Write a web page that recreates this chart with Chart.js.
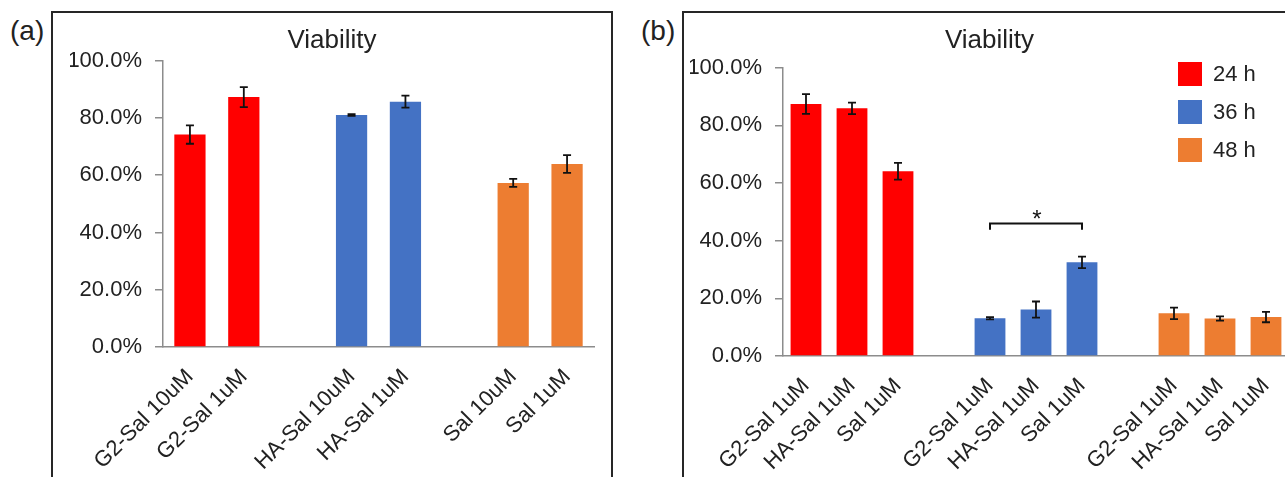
<!DOCTYPE html>
<html>
<head>
<meta charset="utf-8">
<script src="https://cdn.jsdelivr.net/npm/chart.js@4.4.1/dist/chart.umd.min.js"></script>
<style>
  html, body { margin: 0; padding: 0; width: 1285px; height: 477px; overflow: hidden; background: #fff; }
  body { font-family: "Liberation Sans", Arial, sans-serif; position: relative; }
  .panel { position: absolute; top: 11px; height: 520px; border: 2px solid #262626; box-sizing: border-box; }
  #boxA { left: 51px; width: 562px; }
  #boxB { left: 682px; width: 616px; }
  .tag { position: absolute; top: 17px; font-size: 28px; line-height: 28px; color: #222; }
  canvas { position: absolute; left: 0; top: 0; }
</style>
</head>
<body>
<div class="tag" style="left:10px">(a)</div>
<div class="tag" style="left:641px">(b)</div>
<div class="panel" id="boxA"><canvas id="chartA" width="558" height="470"></canvas></div>
<div class="panel" id="boxB"><canvas id="chartB" width="620" height="470"></canvas></div>
<script>
// panel (a): viability by compound and dose
const catsA = ['G2-Sal 10uM', 'G2-Sal 1uM', '', 'HA-Sal 10uM', 'HA-Sal 1uM', '', 'Sal 10uM', 'Sal 1uM'];
const g2SalA = [74.2, 87.3];
const haSalA = [81.0, 85.7];
const salA = [57.3, 63.9];
const g2SalErrA = [3.2, 3.5];
const haSalErrA = [0.3, 2.1];
const salErrA = [1.4, 3.1];

// panel (b): viability at 1uM over time
const catsB = ['G2-Sal 1uM', 'HA-Sal 1uM', 'Sal 1uM', '', 'G2-Sal 1uM', 'HA-Sal 1uM', 'Sal 1uM', '', 'G2-Sal 1uM', 'HA-Sal 1uM', 'Sal 1uM'];
const seriesB = ['24 h', '36 h', '48 h'];
const h24 = [87.4, 85.9, 64.1];
const h36 = [13.1, 16.1, 32.5];
const h48 = [14.8, 13.0, 13.5];
const h24Err = [3.4, 2.0, 2.9];
const h36Err = [0.4, 2.8, 2.0];
const h48Err = [2.0, 0.75, 1.8];

const yTicks = [0, 20, 40, 60, 80, 100];
const sigFrom = 4, sigTo = 6, sigLevel = 46, sigDrop = 2.2, sigText = '*';

const RED = '#FF0000', BLUE = '#4472C4', ORANGE = '#ED7D31';
const FONT = '"Liberation Sans", Arial, sans-serif';
const TEXT = '#222';

// put a group's values into its slots on the category axis
function place(vals, start, n) {
  const out = new Array(n).fill(null);
  vals.forEach((v, i) => { out[start + i] = v; });
  return out;
}

const errorBars = {
  id: 'errorBars',
  afterDatasetsDraw(chart) {
    const ctx = chart.ctx, y = chart.scales.y;
    ctx.save();
    ctx.strokeStyle = '#111';
    ctx.lineWidth = 1.8;
    chart.data.datasets.forEach((ds, i) => {
      const meta = chart.getDatasetMeta(i);
      meta.data.forEach((bar, j) => {
        const v = ds.data[j], e = ds.err[j];
        if (v == null || e == null) return;
        const x = bar.x;
        const top = y.getPixelForValue(v + e), bot = y.getPixelForValue(v - e);
        ctx.beginPath();
        ctx.moveTo(x, top); ctx.lineTo(x, bot);
        ctx.moveTo(x - 4, top); ctx.lineTo(x + 4, top);
        ctx.moveTo(x - 4, bot); ctx.lineTo(x + 4, bot);
        ctx.stroke();
      });
    });
    ctx.restore();
  }
};

const sideLegend = {
  id: 'sideLegend',
  afterDraw(chart) {
    const ctx = chart.ctx;
    ctx.save();
    ctx.font = '22px ' + FONT;
    ctx.textBaseline = 'middle';
    chart.data.datasets.forEach((ds, i) => {
      const cy = 61 + i * 38;
      ctx.fillStyle = ds.backgroundColor;
      ctx.fillRect(494, cy - 12, 24, 24);
      ctx.fillStyle = TEXT;
      ctx.fillText(ds.label, 529, cy + 1);
    });
    ctx.restore();
  }
};

const sigBracket = {
  id: 'sigBracket',
  afterDraw(chart) {
    const ctx = chart.ctx, x = chart.scales.x, y = chart.scales.y;
    const x1 = x.getPixelForValue(sigFrom), x2 = x.getPixelForValue(sigTo);
    const yl = y.getPixelForValue(sigLevel), yd = y.getPixelForValue(sigLevel - sigDrop);
    ctx.save();
    ctx.strokeStyle = '#111';
    ctx.lineWidth = 2;
    ctx.beginPath();
    ctx.moveTo(x1, yd); ctx.lineTo(x1, yl); ctx.lineTo(x2, yl); ctx.lineTo(x2, yd);
    ctx.stroke();
    ctx.fillStyle = '#111';
    ctx.font = '24px ' + FONT;
    ctx.textAlign = 'center';
    ctx.textBaseline = 'alphabetic';
    ctx.fillText(sigText, (x1 + x2) / 2 + 1, yl + 4);
    ctx.restore();
  }
};

function makeChart(id, labels, datasets, cfg) {
  return new Chart(document.getElementById(id), {
    type: 'bar',
    data: { labels: labels, datasets: datasets },
    plugins: cfg.plugins,
    options: {
      responsive: false,
      animation: false,
      layout: { padding: { left: cfg.left, right: cfg.right, top: 0, bottom: 0 } },
      datasets: { bar: { grouped: false, categoryPercentage: 1, barPercentage: cfg.barPct } },
      plugins: {
        legend: { display: false },
        tooltip: { enabled: false },
        title: {
          display: true,
          text: 'Viability',
          color: TEXT,
          font: { family: FONT, size: 26, weight: 'normal', lineHeight: 1.2 },
          padding: { top: 12.5, bottom: cfg.titleBottom }
        }
      },
      scales: {
        x: {
          grid: { display: false, drawTicks: false },
          border: { display: true, color: '#8c8c8c', width: 1.5 },
          ticks: {
            autoSkip: false, maxRotation: 45, minRotation: 45,
            color: TEXT, padding: 17,
            font: { family: FONT, size: 22 }
          },
          afterFit(s) { s.height = cfg.xHeight; }
        },
        y: {
          min: 0, max: 100,
          afterBuildTicks(s) { s.ticks = yTicks.map(v => ({ value: v })); },
          grid: { display: true, drawOnChartArea: false, drawTicks: true, tickLength: 8, color: '#8c8c8c', lineWidth: 1.5 },
          border: { display: true, color: '#8c8c8c', width: 1.5 },
          ticks: {
            color: TEXT, padding: 13,
            font: { family: FONT, size: 22 },
            callback: v => v.toFixed(1) + '%'
          },
          afterFit(s) { s.width = cfg.yWidth; }
        }
      }
    }
  });
}

const nA = catsA.length;
makeChart('chartA', catsA, [
  { label: 'G2-Sal', data: place(g2SalA, 0, nA), err: place(g2SalErrA, 0, nA), backgroundColor: RED },
  { label: 'HA-Sal', data: place(haSalA, 3, nA), err: place(haSalErrA, 3, nA), backgroundColor: BLUE },
  { label: 'Sal', data: place(salA, 6, nA), err: place(salErrA, 6, nA), backgroundColor: ORANGE }
], { left: 17, right: 17, barPct: 0.58, titleBottom: 4, xHeight: 136, yWidth: 93, plugins: [errorBars] });

const nB = catsB.length;
makeChart('chartB', catsB, [
  { label: seriesB[0], data: place(h24, 0, nB), err: place(h24Err, 0, nB), backgroundColor: RED },
  { label: seriesB[1], data: place(h36, 4, nB), err: place(h36Err, 4, nB), backgroundColor: BLUE },
  { label: seriesB[2], data: place(h48, 8, nB), err: place(h48Err, 8, nB), backgroundColor: ORANGE }
], { left: 6, right: 15, barPct: 0.67, titleBottom: 11, xHeight: 127, yWidth: 93, plugins: [errorBars, sideLegend, sigBracket] });
</script>
</body>
</html>
